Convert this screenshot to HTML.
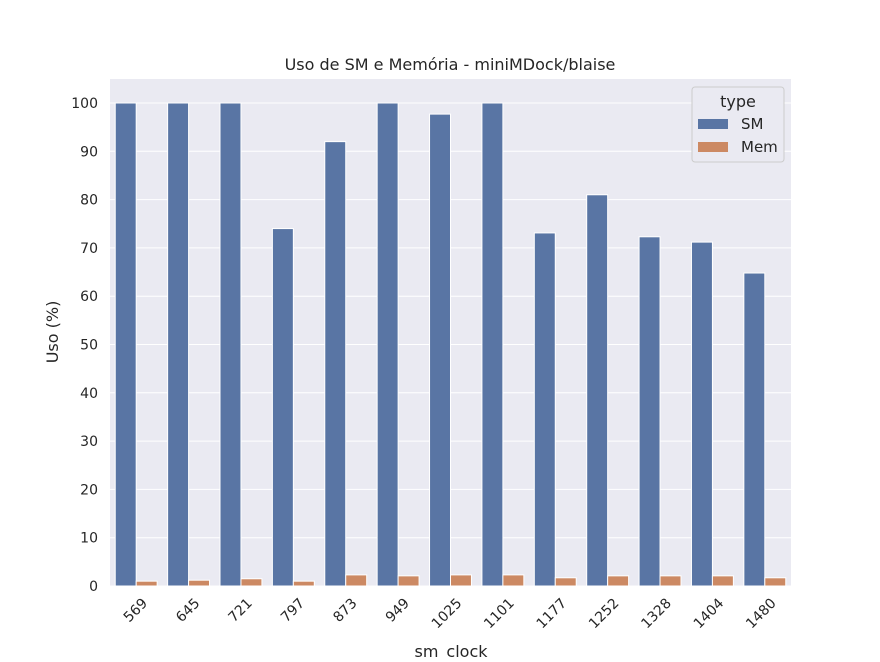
<!DOCTYPE html>
<html><head><meta charset="utf-8"><style>
body{margin:0;background:#fff;font-family:"DejaVu Sans","Liberation Sans",sans-serif;}
</style></head><body>
<svg width="880" height="658" xmlns="http://www.w3.org/2000/svg">
<rect x="110" y="79" width="681" height="507" fill="#eaeaf2"/>
<g id="grid"></g><g id="bars"></g><g id="ticks"></g>
<text x="450" y="70" text-anchor="middle" font-size="16" fill="#262626">Uso de SM e Memória - miniMDock/blaise</text>
<text x="451" y="657" text-anchor="middle" font-size="16" fill="#262626">sm_clock</text>
<text transform="translate(58,332) rotate(-90)" text-anchor="middle" font-size="16" fill="#262626">Uso (%)</text>
<g>
<rect x="692" y="87" width="92" height="75" rx="3" fill="#eaeaf2" stroke="#ccc" stroke-width="1"/>
<text x="738" y="107" text-anchor="middle" font-size="16" fill="#262626">type</text>
<rect x="698" y="119" width="30" height="10" fill="#5975a4"/>
<text x="741" y="129" font-size="15" fill="#262626">SM</text>
<rect x="698" y="142" width="30" height="10" fill="#cc8963"/>
<text x="741" y="152" font-size="15" fill="#262626">Mem</text>
</g>
</svg>
<script>
const categories=["569","645","721","797","873","949","1025","1101","1177","1252","1328","1404","1480"];
const smValues=[100,100,100,74,92,100,97.7,100,73.1,81,72.3,71.2,64.8];
const memValues=[1.0,1.2,1.5,1.0,2.3,2.1,2.3,2.3,1.7,2.1,2.1,2.1,1.7];
const yTicks=[0,10,20,30,40,50,60,70,80,90,100];
const NS="http://www.w3.org/2000/svg";
const x0=110,pw=681,yb=586,yt=103;
const y=v=>yb-(v/100)*(yb-yt);
const bw=pw/categories.length;
function mk(t,a,p){const e=document.createElementNS(NS,t);for(const k in a)e.setAttribute(k,a[k]);p.appendChild(e);return e;}
const grid=document.getElementById('grid'),bars=document.getElementById('bars'),ticks=document.getElementById('ticks');
yTicks.forEach(v=>{
 const l=mk('line',{x1:x0,x2:x0+pw,y1:y(v),y2:y(v),stroke:'#fff','stroke-width':1},grid);
 
 
 const t=mk('text',{x:x0-12,y:y(v)+5,'text-anchor':'end','font-size':14,fill:'#262626'},ticks);
 t.textContent=v;
 
 
});
categories.forEach((c,i)=>{
 const cx=x0+bw*(i+0.5),w=bw*0.4;
 const b1=mk('rect',{x:cx-w,y:y(smValues[i]),width:w,height:yb-y(smValues[i]),fill:'#5975a4',stroke:'#fff','stroke-width':1},bars);
 
 
 const b2=mk('rect',{x:cx,y:y(memValues[i]),width:w,height:yb-y(memValues[i]),fill:'#cc8963',stroke:'#fff','stroke-width':1},bars);
 
 
 const t=mk('text',{transform:`translate(${cx+12},${yb+18}) rotate(-45)`,'text-anchor':'end','font-size':14,fill:'#262626'},ticks);
 t.textContent=c;
 
 
});
</script>
</body></html>
